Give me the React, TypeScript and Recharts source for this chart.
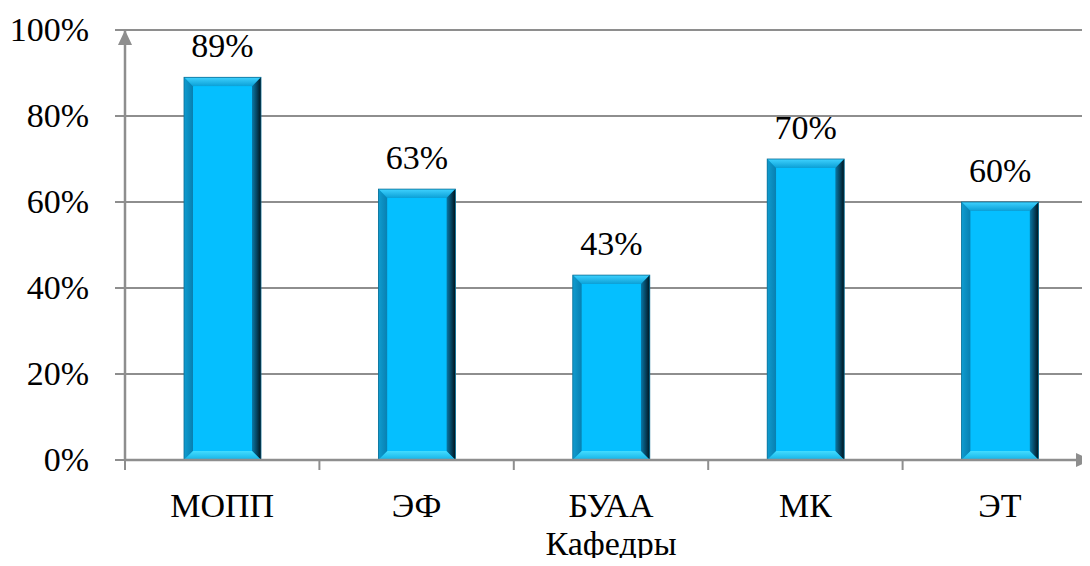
import { BarChart, Bar, XAxis, YAxis, CartesianGrid, LabelList } from "recharts"

const departments = ["МОПП", "ЭФ", "БУАА", "МК", "ЭТ"];
const shares = [0.89, 0.63, 0.43, 0.70, 0.60];
const yTicks = [0, 0.2, 0.4, 0.6, 0.8, 1];
const axisTitle = "Кафедры";

const data = departments.map((name, i) => ({ name, value: shares[i] }));

const FONT = "'Liberation Serif', 'Times New Roman', serif";
const AXIS = "#8e8e8e";
const TXT = { fontFamily: FONT, fontSize: 34, fill: "#000" };

const pct = (v: number) => `${Math.round(v * 100)}%`;

// bevelled bar like the office "3D" bar style
const BevelBar = (props: any) => {
  const { x, y, width, height } = props;
  if (!height || height <= 0) return null;
  const b = 9;
  const x2 = x + width, y2 = y + height;
  return (
    <g>
      <rect x={x} y={y} width={width} height={height} fill="#00bdf7" />
      <polygon points={`${x},${y} ${x2},${y} ${x2 - b},${y + b} ${x + b},${y + b}`} fill="url(#bevTop)" />
      <polygon points={`${x},${y} ${x + b},${y + b} ${x + b},${y2 - b} ${x},${y2}`} fill="url(#bevLeft)" />
      <polygon points={`${x2},${y} ${x2},${y2} ${x2 - b},${y2 - b} ${x2 - b},${y + b}`} fill="url(#bevRight)" />
      <polygon points={`${x},${y2} ${x + b},${y2 - b} ${x2 - b},${y2 - b} ${x2},${y2}`} fill="url(#bevBottom)" />
      <rect x={x + b} y={y + b} width={width - 2 * b} height={height - 2 * b} fill="#05bfff" />
      <rect x={x} y={y} width={width} height={height} fill="none" stroke="#0a6d94" strokeWidth={0.8} />
    </g>
  );
};

const CatTick = (props: any) => {
  const { x, y, payload, width, visibleTicksCount, index } = props;
  const step = width / visibleTicksCount;
  const ay = y - 12; // axis line (tickSize + tickMargin above)
  const last = index === visibleTicksCount - 1;
  const tip = x + step / 2 - 6;
  return (
    <g>
      <line x1={x - step / 2} y1={ay} x2={x - step / 2} y2={ay + 10} stroke={AXIS} strokeWidth={2} />
      {last && <polygon points={`${tip},${ay} ${tip - 15},${ay - 7} ${tip - 15},${ay + 7}`} fill={AXIS} />}
      <text x={x} y={y + 45} textAnchor="middle" style={TXT}>
        {payload.value}
      </text>
      {index === 2 && (
        <text x={x} y={y + 83} textAnchor="middle" style={TXT}>
          {axisTitle}
        </text>
      )}
    </g>
  );
};

const PctTick = (props: any) => {
  const { x, y, payload } = props;
  const ax = x + 36;
  return (
    <g>
      {payload.value === 1 && <polygon points={`${ax},${y} ${ax - 7},${y + 15} ${ax + 7},${y + 15}`} fill={AXIS} />}
      <text x={x} y={y} dy={11} textAnchor="end" style={TXT}>
        {pct(payload.value)}
      </text>
    </g>
  );
};

const ValueLabel = (props: any) => {
  const { x, y, width, value } = props;
  return (
    <text x={x + width / 2} y={y - 20} textAnchor="middle" style={TXT}>
      {pct(value)}
    </text>
  );
};

export default function App() {
  return (
    <div style={{ margin: -8, width: 1090, height: 566, overflow: "hidden", background: "#fff" }}>
      <BarChart
        width={1100}
        height={566}
        data={data}
        margin={{ top: 30, right: 3, left: 0, bottom: 0 }}
        barCategoryGap={0}
        style={{ overflow: "hidden" }}
      >
        <defs>
          <linearGradient id="bevTop" x1="0" y1="0" x2="0" y2="1">
            <stop offset="0%" stopColor="#3fd2ff" />
            <stop offset="100%" stopColor="#0a9fd6" />
          </linearGradient>
          <linearGradient id="bevLeft" x1="0" y1="0" x2="1" y2="0">
            <stop offset="0%" stopColor="#0f9cd0" />
            <stop offset="100%" stopColor="#087fb0" />
          </linearGradient>
          <linearGradient id="bevRight" x1="0" y1="0" x2="1" y2="0">
            <stop offset="0%" stopColor="#0a7aa8" />
            <stop offset="55%" stopColor="#05425e" />
            <stop offset="100%" stopColor="#00121a" />
          </linearGradient>
          <linearGradient id="bevBottom" x1="0" y1="0" x2="0" y2="1">
            <stop offset="0%" stopColor="#43dcff" />
            <stop offset="100%" stopColor="#14b2e6" />
          </linearGradient>
        </defs>
        <CartesianGrid vertical={false} stroke={AXIS} strokeWidth={2} />
        <XAxis
          dataKey="name"
          height={106}
          tickSize={10}
          tickMargin={2}
          tickLine={false}
          axisLine={{ stroke: AXIS, strokeWidth: 2.5 }}
          tick={<CatTick />}
          interval={0}
        />
        <YAxis
          width={125}
          domain={[0, 1]}
          ticks={yTicks}
          tickSize={10}
          tickMargin={26}
          tickLine={{ stroke: AXIS, strokeWidth: 2 }}
          axisLine={{ stroke: AXIS, strokeWidth: 2.5 }}
          tick={<PctTick />}
        />
        <Bar dataKey="value" barSize={77} shape={<BevelBar />} isAnimationActive={false}>
          <LabelList dataKey="value" content={<ValueLabel />} />
        </Bar>
      </BarChart>
    </div>
  );
}
